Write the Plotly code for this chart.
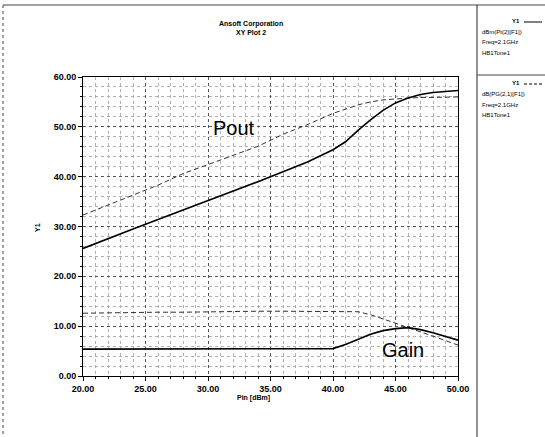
import plotly.graph_objects as go

# ---- data ----
pin = [20, 22, 24, 26, 28, 30, 32, 34, 36, 38, 40, 41, 42, 43, 44, 45, 46, 47, 48, 49, 50]

pout_solid = [25.6, 27.6, 29.5, 31.4, 33.3, 35.2, 37.0, 39.0, 41.0, 43.0, 45.4,
              47.0, 49.3, 51.4, 53.3, 54.8, 55.8, 56.5, 56.9, 57.1, 57.3]
pout_dash = [32.3, 34.3, 36.3, 38.3, 40.6, 42.4, 44.2, 46.1, 48.5, 50.5, 52.7,
             53.6, 54.4, 55.0, 55.4, 55.6, 55.8, 55.9, 55.9, 56.0, 56.0]
gain_solid = [5.4, 5.4, 5.4, 5.4, 5.4, 5.4, 5.4, 5.4, 5.4, 5.4, 5.5,
              6.3, 7.4, 8.4, 9.1, 9.5, 9.7, 9.3, 8.7, 8.0, 7.2]
gain_dash = [12.6, 12.7, 12.7, 12.8, 12.8, 12.9, 12.9, 13.0, 13.0, 13.0, 13.0,
             13.0, 12.9, 12.3, 11.5, 10.6, 9.7, 8.9, 8.0, 7.1, 6.2]

x_ticks = [20, 25, 30, 35, 40, 45, 50]
y_ticks = [0, 10, 20, 30, 40, 50, 60]

title_lines = ["Ansoft Corporation", "XY Plot 2"]
x_title = "Pin [dBm]"
y_title = "Y1"
legend_entries = [
    ["dBm(Pt(2)[F1])", "Freq=2.1GHz", "HB1Tone1"],
    ["dB(PG(2,1)[F1])", "Freq=2.1GHz", "HB1Tone1"],
]

# ---- layout geometry (pixels) ----
W, H = 545, 437
L, R, T, B = 83, 458, 77, 376
FONT = "Liberation Sans, Arial, sans-serif"


def px(x):
    return (x - L) / (R - L)


def py(y):
    return (B - y) / (B - T)


fig = go.Figure()
fig.add_trace(go.Scatter(x=pin, y=pout_dash, mode="lines",
                         line=dict(color="#333333", width=1, dash="5px,3px")))
fig.add_trace(go.Scatter(x=pin, y=pout_solid, mode="lines",
                         line=dict(color="black", width=1.6)))
fig.add_trace(go.Scatter(x=pin, y=gain_dash, mode="lines",
                         line=dict(color="#333333", width=1, dash="5px,3px")))
fig.add_trace(go.Scatter(x=pin, y=gain_solid, mode="lines",
                         line=dict(color="black", width=1.6)))

axis_common = dict(
    showline=True, linecolor="black", linewidth=1, mirror=True,
    ticks="outside", ticklen=4, tickcolor="black",
    showgrid=True, gridcolor="#555555", griddash="dot", gridwidth=1,
    zeroline=False, tickformat=".2f",
    tickfont=dict(family=FONT, size=9, color="black", weight="bold"),
)

fig.update_xaxes(range=[20, 50], tickvals=x_ticks,
                 minor=dict(dtick=1, showgrid=True, gridcolor="#b0b0b0",
                            griddash="dot", ticks="outside", ticklen=2,
                            tickcolor="black"),
                 **axis_common)
fig.update_yaxes(range=[0, 60], tickvals=y_ticks,
                 minor=dict(dtick=2, showgrid=True, gridcolor="#b0b0b0",
                            griddash="dot", ticks="outside", ticklen=2,
                            tickcolor="black"),
                 **axis_common)


def note(x, y, text, size, xanchor="center", angle=0):
    return dict(x=x, y=y, xref="paper", yref="paper",
                text=text, showarrow=False, xanchor=xanchor, yanchor="middle",
                textangle=angle, font=dict(family=FONT, size=size, color="black"))


ann = []
ann.append(note(px(251), py(28), "<b>" + "<br>".join(title_lines) + "</b>", 7))
ann.append(note(px(253), py(398), "<b>" + x_title + "</b>", 7))
ann.append(note(px(37), py(228), "<b>" + y_title + "</b>", 7, angle=-90))
ann.append(dict(x=32.1, y=49.8, xref="x", yref="y", text="Pout", showarrow=False,
                xanchor="center", yanchor="middle",
                font=dict(family=FONT, size=20, color="black")))
ann.append(dict(x=45.6, y=5.2, xref="x", yref="y", text="Gain", showarrow=False,
                xanchor="center", yanchor="middle",
                font=dict(family=FONT, size=20, color="black")))

shapes = []
# outer frame
shapes.append(dict(type="line", xref="paper", yref="paper", x0=px(3), x1=px(3),
                   y0=py(5), y1=py(437), line=dict(color="#444", width=1, dash="dot")))
shapes.append(dict(type="line", xref="paper", yref="paper", x0=px(3), x1=px(545),
                   y0=py(5), y1=py(5), line=dict(color="#444", width=1)))
shapes.append(dict(type="line", xref="paper", yref="paper", x0=px(477), x1=px(477),
                   y0=py(5), y1=py(437), line=dict(color="#222", width=1)))
shapes.append(dict(type="line", xref="paper", yref="paper", x0=px(477), x1=px(545),
                   y0=py(75), y1=py(75), line=dict(color="#444", width=1)))

# legend entries
entry_top = [21, 83]
dashes = ["solid", "3px,2px"]
for (lines, top, dsh) in zip(legend_entries, entry_top, dashes):
    ann.append(note(px(522), py(top), "<b>Y1</b>", 6, xanchor="right"))
    shapes.append(dict(type="line", xref="paper", yref="paper", x0=px(524), x1=px(542),
                       y0=py(top + 1), y1=py(top + 1),
                       line=dict(color="black", width=1, dash=dsh)))
    for i, t in enumerate(lines):
        ann.append(note(px(480), py(top + 11 + 10.5 * i), t, 6, xanchor="left"))

fig.update_layout(
    width=W, height=H,
    margin=dict(l=L, r=W - R, t=T, b=H - B, pad=0),
    paper_bgcolor="white", plot_bgcolor="white",
    showlegend=False,
    annotations=ann, shapes=shapes,
    font=dict(family=FONT),
)

fig.write_html("out.html", config={"displayModeBar": False},
               post_script="document.body.style.margin='0px';")
